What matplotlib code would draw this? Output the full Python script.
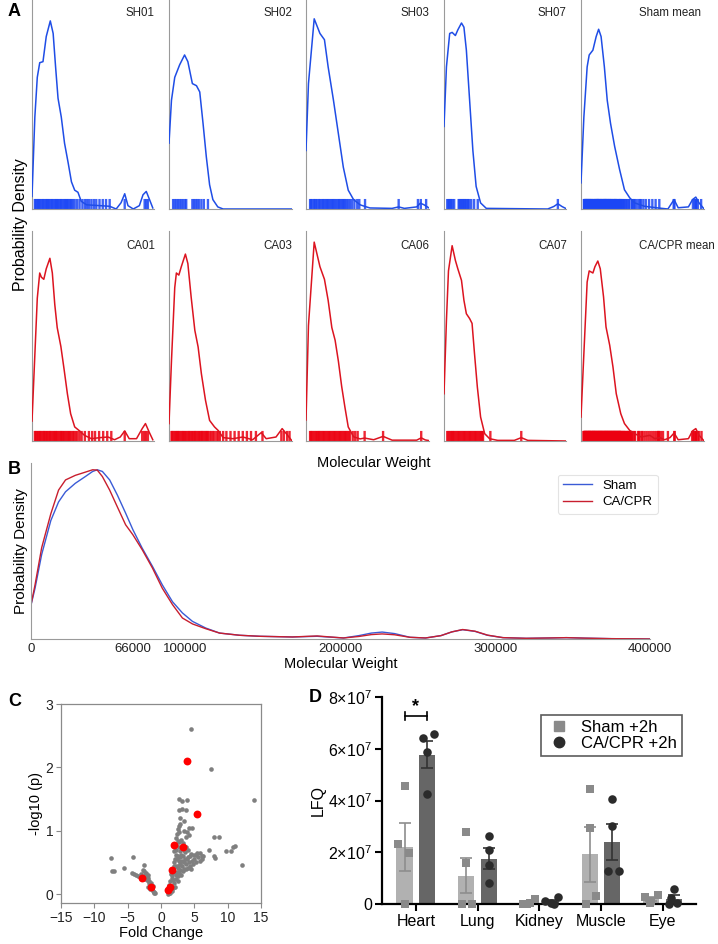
import numpy as np
import matplotlib
matplotlib.use("Agg")
import matplotlib.pyplot as plt
from matplotlib.lines import Line2D

plt.rcParams['font.family'] = ['Liberation Sans', 'DejaVu Sans']
plt.rcParams['mathtext.fontset'] = 'custom'
plt.rcParams['mathtext.rm'] = 'Liberation Sans'
plt.rcParams['mathtext.it'] = 'Liberation Sans:italic'
plt.rcParams['mathtext.bf'] = 'Liberation Sans:bold'

# ---------------- A: per-sample density (MW in kDa, relative density) ----------------
sh01_mw = [0, 7, 13, 19, 27, 35, 45, 52, 58, 64, 72, 80, 89, 97, 105, 113, 121, 134, 167, 191, 207, 219, 228, 236, 249, 264, 273, 281, 289, 297]
sh01_dens = [0.06, 0.44, 0.63, 0.70, 0.705, 0.825, 0.90, 0.84, 0.68, 0.53, 0.44, 0.315, 0.22, 0.13, 0.09, 0.08, 0.037, 0.02, 0.016, 0.013, 0.0, 0.03, 0.073, 0.016, 0.0, 0.016, 0.068, 0.084, 0.045, 0.005]
sh01_rug = [7, 9, 12, 15, 17, 20, 23, 26, 28, 31, 34, 37, 39, 42, 45, 48, 50, 53, 56, 59, 61, 64, 67, 70, 72, 75, 78, 81, 84, 86, 89, 92, 95, 97, 101, 105, 111, 117, 124, 130, 135, 140, 146, 152, 158, 166, 174, 182, 191, 228, 277, 281, 285]

sh02_mw = [0, 6, 14, 26, 38, 46, 57, 67, 75, 83, 91, 99, 107, 119, 132, 300]
sh02_dens = [0.315, 0.52, 0.63, 0.69, 0.737, 0.705, 0.60, 0.59, 0.56, 0.41, 0.25, 0.116, 0.045, 0.01, 0.0, 0.0]
sh02_rug = [10, 14, 18, 22, 26, 30, 34, 39, 42, 57, 61, 65, 69, 73, 79, 85, 95]

sh03_mw = [0, 6, 20, 34, 45, 54, 67, 79, 91, 103, 116, 132, 144, 156, 210, 226, 240, 270, 279, 288, 300]
sh03_dens = [0.28, 0.6, 0.91, 0.84, 0.81, 0.68, 0.52, 0.36, 0.2, 0.09, 0.045, 0.02, 0.012, 0.005, 0.003, 0.01, 0.003, 0.01, 0.028, 0.02, 0.005]
sh03_rug = [10, 12, 15, 19, 21, 24, 27, 31, 33, 36, 40, 42, 45, 48, 51, 54, 57, 60, 63, 66, 69, 72, 75, 79, 81, 84, 87, 90, 93, 96, 99, 103, 107, 112, 118, 125, 130, 144, 226, 273, 280, 293]

sh07_mw = [0, 6, 14, 20, 28, 34, 43, 49, 55, 63, 71, 79, 90, 104, 255, 270, 280, 290, 300]
sh07_dens = [0.395, 0.68, 0.84, 0.845, 0.83, 0.857, 0.89, 0.87, 0.76, 0.52, 0.28, 0.108, 0.029, 0.003, 0.0, 0.012, 0.025, 0.012, 0.002]
sh07_rug = [8, 11, 13, 16, 18, 21, 25, 36, 38, 41, 43, 46, 48, 51, 53, 56, 59, 62, 67, 74, 83, 280]

sham_mean_mw = [0, 7, 15, 20, 29, 37, 43, 49, 57, 64, 72, 82, 94, 106, 119, 131, 155, 188, 212, 227, 237, 262, 272, 280, 288, 299]
sham_mean_dens = [0.125, 0.44, 0.68, 0.737, 0.76, 0.825, 0.86, 0.825, 0.68, 0.52, 0.41, 0.30, 0.19, 0.092, 0.053, 0.029, 0.013, 0.005, 0.0, 0.045, 0.006, 0.01, 0.045, 0.057, 0.029, 0.003]

ca01_mw = [0, 7, 13, 19, 23, 29, 35, 44, 50, 56, 62, 71, 79, 87, 95, 105, 117, 129, 146, 167, 187, 203, 217, 228, 239, 257, 271, 279, 288, 297]
ca01_dens = [0.095, 0.41, 0.68, 0.80, 0.78, 0.77, 0.82, 0.87, 0.80, 0.65, 0.54, 0.45, 0.34, 0.225, 0.13, 0.067, 0.048, 0.027, 0.011, 0.016, 0.019, 0.006, 0.019, 0.048, 0.011, 0.011, 0.059, 0.083, 0.043, 0.006]
ca01_rug = [7, 9, 12, 15, 18, 20, 23, 26, 29, 31, 34, 37, 40, 43, 45, 48, 51, 54, 57, 59, 62, 65, 68, 71, 73, 76, 79, 82, 85, 88, 91, 94, 97, 101, 104, 108, 112, 117, 122, 130, 140, 148, 155, 165, 175, 185, 195, 228, 271, 276, 280, 285]

ca03_mw = [0, 6, 14, 18, 24, 30, 40, 46, 54, 63, 71, 79, 89, 99, 111, 120, 132, 156, 180, 204, 225, 237, 261, 276, 286, 299]
ca03_dens = [0.083, 0.38, 0.73, 0.80, 0.79, 0.83, 0.89, 0.845, 0.686, 0.527, 0.448, 0.32, 0.194, 0.098, 0.067, 0.05, 0.016, 0.011, 0.019, 0.006, 0.04, 0.011, 0.019, 0.059, 0.035, 0.003]
ca03_rug = [6, 8, 11, 14, 17, 20, 22, 25, 28, 31, 34, 36, 39, 42, 45, 48, 50, 53, 56, 59, 62, 64, 67, 70, 73, 76, 79, 81, 84, 87, 90, 93, 95, 99, 103, 107, 111, 116, 120, 124, 132, 140, 150, 160, 170, 180, 190, 200, 212, 228, 274, 280, 288, 294]

ca06_mw = [0, 6, 20, 34, 45, 54, 63, 71, 79, 87, 95, 103, 116, 132, 143, 165, 188, 210, 270, 281, 291, 300]
ca06_dens = [0.1, 0.55, 0.947, 0.83, 0.77, 0.67, 0.54, 0.48, 0.38, 0.26, 0.16, 0.067, 0.02, 0.01, 0.014, 0.006, 0.022, 0.004, 0.004, 0.015, 0.005, 0.002]
ca06_rug = [10, 12, 15, 18, 21, 24, 27, 30, 32, 35, 38, 41, 44, 47, 50, 53, 56, 59, 62, 65, 68, 71, 74, 77, 80, 83, 86, 89, 92, 95, 98, 101, 104, 107, 114, 120, 126, 143, 188, 281]

ca07_mw = [0, 6, 11, 20, 28, 34, 43, 49, 55, 63, 69, 75, 82, 90, 100, 112, 132, 173, 190, 206, 300]
ca07_dens = [0.225, 0.575, 0.81, 0.93, 0.86, 0.82, 0.765, 0.67, 0.606, 0.583, 0.56, 0.416, 0.257, 0.114, 0.035, 0.011, 0.003, 0.003, 0.016, 0.003, 0.0]
ca07_rug = [8, 11, 14, 17, 20, 22, 25, 28, 31, 34, 37, 40, 43, 46, 49, 52, 55, 58, 61, 64, 67, 70, 73, 76, 79, 82, 85, 88, 91, 94, 96, 114, 190]

ca_mean_mw = [0, 7, 15, 20, 29, 34, 41, 47, 55, 61, 70, 78, 86, 97, 106, 119, 131, 147, 168, 180, 192, 204, 217, 227, 237, 262, 272, 280, 288, 299]
ca_mean_dens = [0.114, 0.416, 0.757, 0.81, 0.80, 0.83, 0.857, 0.82, 0.686, 0.543, 0.456, 0.352, 0.225, 0.13, 0.083, 0.05, 0.035, 0.019, 0.027, 0.011, 0.016, 0.006, 0.016, 0.038, 0.006, 0.011, 0.048, 0.059, 0.027, 0.003]

# ---------------- B: group density ----------------
b_mw = [0, 2.8, 7.1, 13, 18, 22.5, 28.8, 35.3, 40, 43, 46.3, 51, 56, 61.3, 66, 72, 78.6, 85, 91.6, 98, 104.5, 113, 122, 135, 148, 169, 185, 202,
        212, 220, 227, 235, 245, 255, 265, 272, 279, 287, 295, 305, 320, 335, 346, 358, 375, 390, 400]
b_sham = [0.193, 0.30, 0.50, 0.70, 0.81, 0.87, 0.92, 0.96, 0.99, 1.0, 0.99, 0.94, 0.85, 0.744, 0.646, 0.537, 0.43, 0.32, 0.22, 0.154, 0.104, 0.065, 0.035, 0.022, 0.016, 0.012, 0.016, 0.006,
          0.02, 0.035, 0.041, 0.032, 0.01, 0.006, 0.02, 0.042, 0.055, 0.045, 0.022, 0.008, 0.004, 0.006, 0.008, 0.005, 0.002, 0.001, 0.0]
b_ca = [0.193, 0.32, 0.54, 0.74, 0.88, 0.94, 0.967, 0.986, 1.0, 0.998, 0.96, 0.88, 0.78, 0.675, 0.616, 0.528, 0.42, 0.30, 0.203, 0.124, 0.089, 0.061, 0.035, 0.022, 0.016, 0.012, 0.018, 0.006,
        0.015, 0.026, 0.03, 0.025, 0.01, 0.006, 0.02, 0.042, 0.056, 0.046, 0.023, 0.008, 0.004, 0.006, 0.008, 0.005, 0.002, 0.001, 0.0]
b_ticks = [0, 66000, 100000, 200000, 300000, 400000]

# ---------------- C: volcano ----------------
fc_gray = [-7.45, -7.4, -7.1, -5.55, -4.25, -4.4, -4.0, -3.7, -3.4, -3.2, -2.9, -2.55, -2.5, -2.3, -2.4, -2.2, -2.0, -2.1, -1.9, -1.8,
           -1.75, -1.6, -1.5, -1.4, -1.3, -1.25, -1.15, -1.1, -1.0, -0.95, -2.6, -3.0, -2.7, -1.95, -1.7,
           4.45, 7.45, 13.95, 2.75, 3.2, 3.85, 2.7, 3.2, 3.7, 2.85, 3.5, 2.7, 2.5, 2.75, 4.2, 4.7, 3.9, 4.2, 3.7, 7.9, 8.65,
           2.2, 2.5, 2.7, 3.0, 2.3, 2.7, 3.1, 7.2, 7.9, 8.1, 9.7, 10.5, 10.85, 11.1, 12.1, 5.8, 6.1, 5.3, 4.5, 4.1, 3.6,
           1.0, 1.1, 1.2, 1.3, 1.25, 1.4, 1.5, 1.6, 1.7, 1.55, 1.8, 1.9, 2.0, 2.1, 2.2, 2.0, 2.3, 1.8, 2.0, 2.2, 2.4, 2.5,
           2.6, 2.8, 2.9, 3.0, 3.2, 3.4, 3.5, 3.7, 3.9, 4.0, 4.2, 4.4, 4.6, 4.8, 5.0, 5.2, 5.5, 5.8, 6.1, 6.3, 2.4, 2.6,
           2.8, 3.0, 3.3, 3.5, 2.5, 2.7, 3.1, 3.6, 4.3, 2.2, 1.9, 2.3, 2.7, 3.3, 3.8, 4.5, 1.6, 1.8, 2.1, 1.4, 2.5, 4.9,
           5.4, 2.9, 3.3, 3.8, 4.0, 2.4, 2.9, 3.4]
logp_gray = [0.57, 0.37, 0.37, 0.42, 0.58, 0.33, 0.31, 0.30, 0.28, 0.27, 0.26, 0.46, 0.36, 0.33, 0.30, 0.27, 0.30, 0.22, 0.25, 0.20,
             0.17, 0.14, 0.18, 0.10, 0.08, 0.13, 0.05, 0.03, 0.01, 0.02, 0.24, 0.32, 0.38, 0.12, 0.08,
             2.6, 1.98, 1.48, 1.5, 1.47, 1.48, 1.33, 1.34, 1.33, 1.2, 1.15, 1.07, 1.03, 0.98, 1.05, 1.05, 0.98, 0.93, 0.9, 0.9, 0.9,
             0.88, 0.84, 0.82, 0.86, 0.78, 0.74, 0.72, 0.7, 0.6, 0.57, 0.68, 0.68, 0.74, 0.76, 0.46, 0.65, 0.6, 0.62, 0.63, 0.58, 0.66,
             0.0, 0.04, 0.02, 0.08, 0.15, 0.2, 0.12, 0.25, 0.3, 0.32, 0.4, 0.45, 0.5, 0.55, 0.62, 0.68, 0.7, 0.22, 0.18, 0.3, 0.35, 0.28,
             0.42, 0.48, 0.38, 0.3, 0.45, 0.5, 0.4, 0.48, 0.55, 0.42, 0.5, 0.45, 0.52, 0.48, 0.55, 0.5, 0.58, 0.52, 0.55, 0.6, 0.55, 0.6,
             0.58, 0.62, 0.6, 0.7, 0.45, 0.52, 0.52, 0.55, 0.6, 0.45, 0.35, 0.24, 0.33, 0.36, 0.4, 0.4, 0.05, 0.1, 0.12, 0.02, 0.2, 0.62,
             0.65, 0.68, 0.8, 0.75, 0.7, 0.95, 1.1, 1.0]
fc_red = [3.9, 5.45, 1.9, 3.25, 1.6, 1.4, 1.1, -2.8, -1.5]
logp_red = [2.1, 1.26, 0.78, 0.74, 0.38, 0.12, 0.07, 0.25, 0.12]

# ---------------- D: LFQ per tissue (x 1e7) ----------------
tissues = ["Heart", "Lung", "Kidney", "Muscle", "Eye"]
sham_lfq = [[4.56, 2.31, 1.96, 0.0], [2.80, 1.57, 0.0, 0.0], [0.0, 0.02, 0.2, 0.0],
            [4.45, 2.93, 0.32, 0.0], [0.28, 0.1, 0.33, 0.02]]
ca_lfq = [[6.42, 6.57, 5.86, 4.24], [2.63, 2.09, 1.49, 0.80], [0.13, 0.0, 0.02, 0.27],
          [4.06, 3.0, 1.27, 1.27], [0.58, 0.22, 0.03, 0.0]]
d_yticks = [0, 2, 4, 6, 8]
d_yticklabels = ["0", r"$2{\times}10^{7}$", r"$4{\times}10^{7}$", r"$6{\times}10^{7}$", r"$8{\times}10^{7}$"]

# point spread inside each bar (layout only)
sham_jit = [[0, -0.11, 0.07, 0], [0, 0, -0.07, 0.1], [-0.08, 0.04, 0.11, -0.02], [0, 0, 0.1, -0.06], [-0.1, 0, 0.11, -0.02]]
ca_jit = [[-0.065, 0.1, 0, 0], [0, 0, 0, 0], [-0.09, 0.05, 0, 0.12], [0, 0, -0.07, 0.1], [0, -0.05, 0.04, -0.08]]

W, H = 718, 944
fig = plt.figure(figsize=(W / 100, H / 100), dpi=100)


def axes_px(left, top, right, bottom):
    return fig.add_axes([left / W, 1 - bottom / H, (right - left) / W, (bottom - top) / H])


BLUE = '#1f4de6'
BLUE_RUG = '#1b46f5'
RED = '#dc1420'
RED_RUG = '#ec0010'
lefts = [32, 169, 306, 444, 581]
rights = [154, 292, 429, 566, 704]

sham_panels = [("SH01", sh01_mw, sh01_dens, sh01_rug), ("SH02", sh02_mw, sh02_dens, sh02_rug),
               ("SH03", sh03_mw, sh03_dens, sh03_rug), ("SH07", sh07_mw, sh07_dens, sh07_rug),
               ("Sham mean", sham_mean_mw, sham_mean_dens, sh01_rug + sh02_rug + sh03_rug + sh07_rug)]
ca_panels = [("CA01", ca01_mw, ca01_dens, ca01_rug), ("CA03", ca03_mw, ca03_dens, ca03_rug),
             ("CA06", ca06_mw, ca06_dens, ca06_rug), ("CA07", ca07_mw, ca07_dens, ca07_rug),
             ("CA/CPR mean", ca_mean_mw, ca_mean_dens, ca01_rug + ca03_rug + ca06_rug + ca07_rug)]

for row, (panels, top, bottom, col, rcol, ty) in enumerate(
        [(sham_panels, 0, 209, BLUE, BLUE_RUG, 0.965), (ca_panels, 231, 441, RED, RED_RUG, 0.955)]):
    for i, (name, mw, dens, rug) in enumerate(panels):
        ax = axes_px(lefts[i], top, rights[i], bottom)
        rl = ax.vlines(rug, 0, 0.048, color=rcol, lw=1.7, alpha=0.85, zorder=1)
        rl.set_snap(False)
        ax.plot(mw, dens, color=col, lw=1.1, zorder=3)
        ax.set_xlim(0, 300)
        ax.set_ylim(0, 1)
        for s in ['top', 'right']:
            ax.spines[s].set_visible(False)
        for s in ['left', 'bottom']:
            ax.spines[s].set_color('#9a9a9a')
            ax.spines[s].set_linewidth(0.8)
        ax.set_xticks([])
        ax.set_yticks([])
        tx = 0.47 if 'mean' in name else 0.77
        ax.text(tx, ty, name, transform=ax.transAxes, ha='left', va='top', fontsize=8.3, color='#222222')

fig.text(21 / W, 1 - 225 / H, "Probability Density", rotation=90, ha='center', va='center', fontsize=11.5)
fig.text(14 / W, 1 - 12 / H, "A", ha='center', va='center', fontsize=13, weight='bold')

# ---------------- B ----------------
axb = axes_px(30.7, 463, 650, 639)
axb.plot(np.array(b_mw) * 1000, b_sham, color='#3a5bd6', lw=1.0, label='Sham')
axb.plot(np.array(b_mw) * 1000, b_ca, color='#c81e2e', lw=1.0, label='CA/CPR')
axb.set_xlim(0, 400000)
axb.set_ylim(0, 1.04)
for s in ['top', 'right']:
    axb.spines[s].set_visible(False)
for s in ['left', 'bottom']:
    axb.spines[s].set_color('#9a9a9a')
    axb.spines[s].set_linewidth(0.8)
axb.set_yticks([])
axb.set_xticks(b_ticks)
axb.set_xticklabels([str(t) for t in b_ticks])
axb.tick_params(axis='x', length=0, labelsize=9.5, pad=3, labelcolor='#222222')
axb.set_xlabel("Molecular Weight", fontsize=10.5, labelpad=1)
leg = axb.legend(loc='upper left', bbox_to_anchor=(551 / W, 1 - 468 / H), bbox_transform=fig.transFigure,
                 fontsize=9.5, frameon=True, handlelength=2.2, borderpad=0.4, labelspacing=0.3, handletextpad=0.8)
leg.get_frame().set_edgecolor('#dddddd')
leg.get_frame().set_linewidth(0.8)
fig.text(374 / W, 1 - 463 / H, "Molecular Weight", ha='center', va='center', fontsize=10.5)
fig.text(21 / W, 1 - 551 / H, "Probability Density", rotation=90, ha='center', va='center', fontsize=11)
fig.text(14 / W, 1 - 470 / H, "B", ha='center', va='center', fontsize=13, weight='bold')

# ---------------- C ----------------
axc = axes_px(61, 704, 261, 903)
axc.scatter(fc_gray, logp_gray, s=11, color='#7f7f7f', linewidths=0, zorder=2)
axc.scatter(fc_red, logp_red, s=32, color='#ff0000', linewidths=0, zorder=3)
axc.set_xlim(-15, 15)
axc.set_ylim(-0.14, 3)
axc.set_xticks([-15, -10, -5, 0, 5, 10, 15])
axc.set_yticks([0, 1, 2, 3])
for s in axc.spines.values():
    s.set_color('#8a8a8a')
    s.set_linewidth(0.9)
axc.tick_params(direction='out', length=3.5, width=0.8, color='#8a8a8a', labelsize=10, labelcolor='#222222', pad=2)
axc.set_xlabel("Fold Change", fontsize=10.5, labelpad=1)
axc.set_ylabel("-log10 (p)", fontsize=10.5, labelpad=2)
fig.text(15 / W, 1 - 702 / H, "C", ha='center', va='center', fontsize=13, weight='bold')

# ---------------- D ----------------
axd = axes_px(382, 697, 696, 904)
x = np.arange(len(tissues))
off, bw = 0.185, 0.26
sham_mean = [np.mean(v) for v in sham_lfq]
ca_mean = [np.mean(v) for v in ca_lfq]
sham_sem = [np.std(v, ddof=1) / np.sqrt(len(v)) for v in sham_lfq]
ca_sem = [np.std(v, ddof=1) / np.sqrt(len(v)) for v in ca_lfq]
axd.bar(x - off, sham_mean, bw, color='#b1b1b1', zorder=1)
axd.bar(x + off, ca_mean, bw, color='#666666', zorder=1)
axd.errorbar(x - off, sham_mean, yerr=sham_sem, fmt='none', ecolor='#8e8e8e', elinewidth=1.2, capsize=4, capthick=1.2, zorder=2)
axd.errorbar(x + off, ca_mean, yerr=ca_sem, fmt='none', ecolor='#333333', elinewidth=1.2, capsize=4, capthick=1.2, zorder=2)
for i in range(len(tissues)):
    axd.scatter(x[i] - off + np.array(sham_jit[i]), sham_lfq[i], marker='s', s=30, color='#8a8a8a',
                linewidths=0, zorder=3, clip_on=False)
    axd.scatter(x[i] + off + np.array(ca_jit[i]), ca_lfq[i], marker='o', s=38, color='#2b2b2b',
                linewidths=0, zorder=3, clip_on=False)
axd.set_xlim(-0.55, 4.54)
axd.set_ylim(0, 8)
axd.set_yticks(d_yticks)
axd.set_yticklabels(d_yticklabels)
axd.set_xticks(x)
axd.set_xticklabels(tissues)
for s in ['top', 'right']:
    axd.spines[s].set_visible(False)
for s in ['left', 'bottom']:
    axd.spines[s].set_linewidth(1.6)
    axd.spines[s].set_color('black')
axd.tick_params(direction='out', length=5, width=1.5, labelsize=11.5, pad=2)
axd.set_ylabel("LFQ", fontsize=11.5, labelpad=2)
# significance bracket Heart
yb = 7.26
axd.plot([-off, off], [yb, yb], color='black', lw=1.2)
axd.plot([-off, -off], [yb - 0.15, yb + 0.15], color='black', lw=1.2)
axd.plot([off, off], [yb - 0.15, yb + 0.15], color='black', lw=1.2)
axd.text(0, yb + 0.05, "*", ha='center', va='bottom', fontsize=13, weight='bold')
handles = [Line2D([], [], marker='s', ls='none', color='#8a8a8a', markersize=7),
           Line2D([], [], marker='o', ls='none', color='#2b2b2b', markersize=7.5)]
legd = axd.legend(handles, ["Sham +2h", "CA/CPR +2h"], loc='upper left', bbox_to_anchor=(533 / W, 1 - 707 / H),
                  bbox_transform=fig.transFigure, fontsize=12, fancybox=False, borderpad=0.3,
                  labelspacing=0.05, handletextpad=0.6, handlelength=1.5)
legd.get_frame().set_edgecolor('#333333')
legd.get_frame().set_linewidth(1.2)
fig.text(315 / W, 1 - 697 / H, "D", ha='center', va='center', fontsize=13, weight='bold')

fig.savefig("out.png", dpi=100)
